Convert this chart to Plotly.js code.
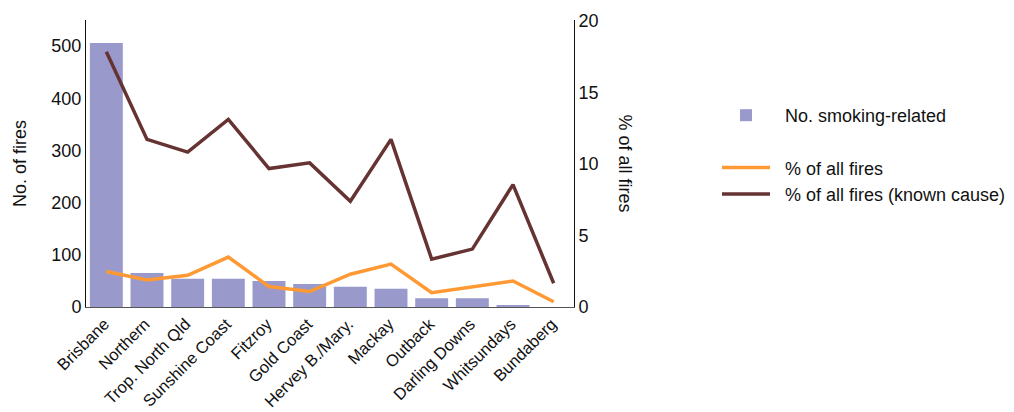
<!DOCTYPE html>
<html>
<head>
<meta charset="utf-8">
<script src="https://cdn.plot.ly/plotly-3.0.1.min.js"></script>
<style>html,body{margin:0;padding:0;background:#fff;}#chart{width:1014px;height:412px;}</style>
</head>
<body>
<div id="chart"></div>
<script>
const regions = ["Brisbane","Northern","Trop. North Qld","Sunshine Coast","Fitzroy","Gold Coast","Hervey B./Mary.","Mackay","Outback","Darling Downs","Whitsundays","Bundaberg"];
const smokingFires = [506, 65, 54, 54, 50, 44, 39, 35, 17, 17, 4, 0];
const pctAllFires = [2.48, 1.89, 2.22, 3.49, 1.43, 1.08, 2.29, 3.0, 1.0, 1.38, 1.82, 0.37];
const pctKnownCause = [17.85, 11.72, 10.83, 13.12, 9.68, 10.08, 7.39, 11.72, 3.35, 4.05, 8.56, 1.66];
const legendNames = ["No. smoking-related", "% of all fires", "% of all fires (known cause)"];

const font = {family: "Liberation Sans, Arial, sans-serif", size: 18, color: "#111"};
const xfont = {family: "Liberation Sans, Arial, sans-serif", size: 16.5, color: "#111"};
const pad = "\u00a0\u00a0";

const traces = [
  {type: "bar", x: regions, y: smokingFires, name: pad + legendNames[0],
   marker: {color: "#9999cc"}, legendgroup: "a", yaxis: "y"},
  {type: "scatter", mode: "lines", x: regions, y: pctAllFires, name: pad + legendNames[1],
   line: {color: "#ff9933", width: 3.5}, legendgroup: "b", yaxis: "y2"},
  {type: "scatter", mode: "lines", x: regions, y: pctKnownCause, name: pad + legendNames[2],
   line: {color: "#663333", width: 3.5}, legendgroup: "b", yaxis: "y2"}
];

const layout = {
  width: 1014, height: 412,
  margin: {l: 86, r: 440, t: 20, b: 105},
  paper_bgcolor: "#fff", plot_bgcolor: "#fff",
  font: font,
  bargap: 0.19,
  showlegend: true,
  legend: {
    xref: "container", yref: "container",
    x: 717/1014, y: 1 - 97/412, xanchor: "left", yanchor: "top",
    traceorder: "grouped", tracegroupgap: 26,
    font: font, bgcolor: "rgba(0,0,0,0)", itemwidth: 48
  },
  xaxis: {
    tickangle: -45, showgrid: false, zeroline: false,
    showline: true, linecolor: "#555", linewidth: 1, ticks: "",
    tickfont: xfont, ticklabelshift: -2
  },
  yaxis: {
    range: [0, 550], tickvals: [0,100,200,300,400,500],
    showgrid: false, zeroline: false, showline: true, linecolor: "#111", linewidth: 1,
    ticks: "", tickfont: font,
    title: {text: "No. of fires", font: font, standoff: 20}
  },
  yaxis2: {
    overlaying: "y", side: "right", range: [0, 20.07], tickvals: [0,5,10,15,20],
    showgrid: false, zeroline: false, showline: true, linecolor: "#111", linewidth: 1,
    ticks: "", tickfont: font
  },
  annotations: [{
    text: "% of all fires", xref: "paper", yref: "paper",
    x: (625-86)/488, y: 0.5, xanchor: "center", yanchor: "middle",
    textangle: 90, showarrow: false, font: font
  }]
};

Plotly.newPlot("chart", traces, layout, {displayModeBar: false, staticPlot: true});
</script>
</body>
</html>
